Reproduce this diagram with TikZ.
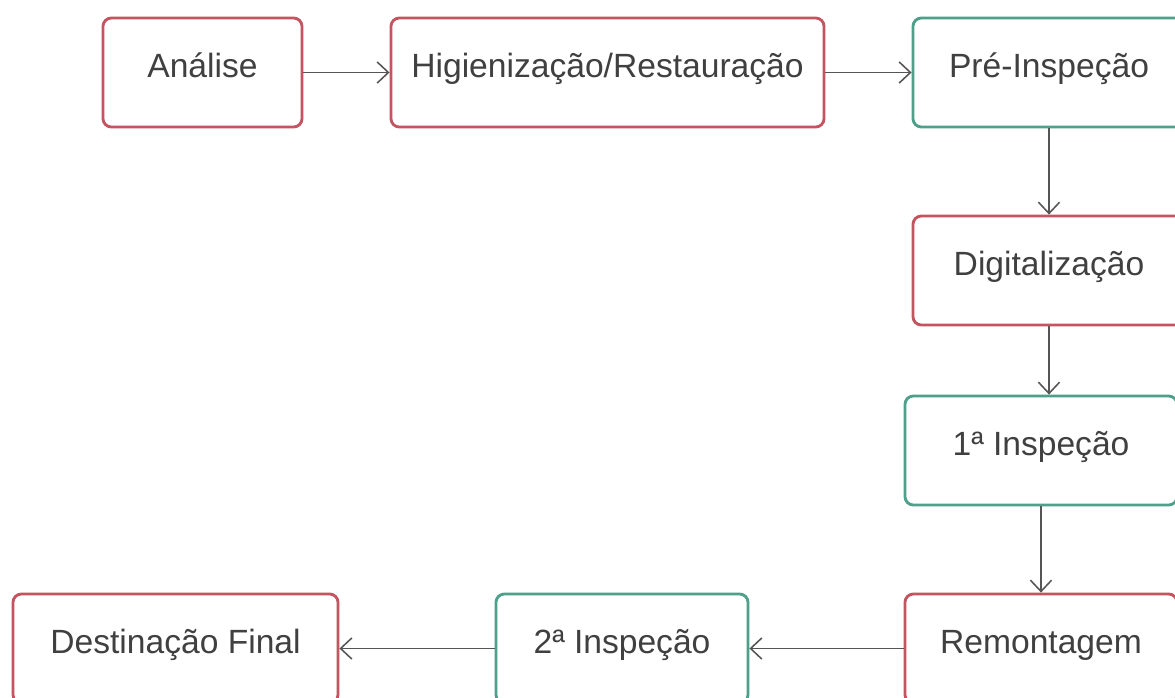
\documentclass[tikz,border=0pt]{standalone}
\usepackage{fontspec}
\setmainfont{Liberation Sans}
\usepackage{tikz}
\usetikzlibrary{positioning,arrows.meta}

\definecolor{boxred}{RGB}{196,84,96}
\definecolor{boxgreen}{RGB}{78,160,138}
\definecolor{linegray}{RGB}{85,85,85}

\tikzset{
  stage/.style={draw, rounded corners=6pt, line width=2pt, fill=white,
    minimum height=2.725cm, text=black!75,
    text height=16pt, text depth=8.2pt,
    font=\fontsize{23.9}{28}\selectfont},
  redstage/.style={stage, draw=boxred},
  greenstage/.style={stage, draw=boxgreen},
  flow/.style={draw=linegray, line width=1.1pt,
    -{Straight Barb[length=8pt, width=15pt]}}
}

\begin{document}
\begin{tikzpicture}[x=0.025cm, y=-0.025cm]
\useasboundingbox (0,0) rectangle (1175,697);
\clip (0,0) rectangle (1175,697);
\fill[white] (0,0) rectangle (1175,697);
\node[redstage, minimum width=4.975cm] (analise) at (202.5,72.5) {Análise};
\node[redstage, minimum width=10.825cm] (higien) at (607.5,72.5) {Higienização/Restauração};
\node[greenstage, minimum width=6.8cm] (preinsp) at (1049,72.5) {Pré-Inspeção};
\node[redstage, minimum width=6.8cm] (digital) at (1049,270.5) {Digitalização};
\node[greenstage, minimum width=6.8cm] (insp1) at (1041,450.5) {1ª Inspeção};
\node[redstage, minimum width=6.8cm] (remont) at (1041,648.5) {Remontagem};
\node[greenstage, minimum width=6.3cm] (insp2) at (622,648.5) {2ª Inspeção};
\node[redstage, minimum width=8.125cm] (destino) at (175.5,648.5) {Destinação Final};
\draw[flow] (analise) -- (higien);
\draw[flow] (higien) -- (preinsp);
\draw[flow] (preinsp) -- (digital);
\draw[flow] (digital.south) -- (digital.south |- insp1.north);
\draw[flow] (insp1) -- (remont);
\draw[flow] (remont) -- (insp2);
\draw[flow] (insp2) -- (destino);
\end{tikzpicture}
\end{document}
